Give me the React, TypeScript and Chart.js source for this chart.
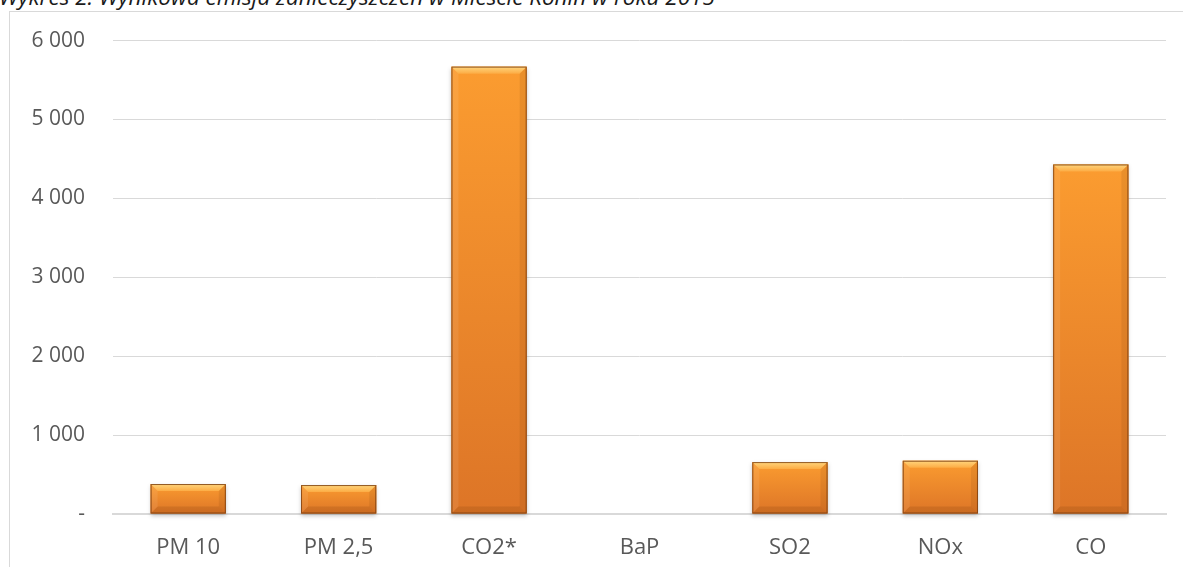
import React, { useEffect, useRef } from 'react';
import { Chart, registerables } from 'chart.js';

Chart.register(...registerables);

// emisja [Mg/rok]
const categories = ['PM 10', 'PM 2,5', 'CO2*', 'BaP', 'SO2', 'NOx', 'CO'];
const emissions = [380, 367, 5670, 0, 658, 675, 4430];
const yMax = 6000;
const yStep = 1000;

const title = 'Wykres 2. Wynikowa emisja zanieczyszczeń w Mieście Konin w roku 2015';

const fmt = (v: number) => (v === 0 ? '-' : String(v).replace(/\B(?=(\d{3})+(?!\d))/g, ' '));

// excel-like bevel on the bars, drawn over each bar element
const bevel = {
  id: 'bevel',
  afterDatasetsDraw(chart: any) {
    const ctx = chart.ctx as CanvasRenderingContext2D;
    chart.getDatasetMeta(0).data.forEach((bar: any) => {
      const p = bar.getProps(['x', 'y', 'base', 'width'], true);
      const l = p.x - p.width / 2;
      const r = p.x + p.width / 2;
      const t = Math.min(p.y, p.base);
      const b = Math.max(p.y, p.base);
      const h = b - t;
      if (h < 1) return;
      const s = Math.min(7, h / 2, p.width / 2);
      ctx.save();

      ctx.shadowColor = 'rgba(0,0,0,0.22)';
      ctx.shadowBlur = 4;
      ctx.shadowOffsetY = 2;
      const g = ctx.createLinearGradient(0, t, 0, b);
      g.addColorStop(0, '#fb9c30');
      g.addColorStop(1, '#dd7527');
      ctx.fillStyle = g;
      ctx.fillRect(l, t, p.width, h);
      ctx.shadowColor = 'transparent';

      const poly = (pts: number[][], fill: string | CanvasGradient) => {
        ctx.beginPath();
        ctx.moveTo(pts[0][0], pts[0][1]);
        pts.slice(1).forEach((q) => ctx.lineTo(q[0], q[1]));
        ctx.closePath();
        ctx.fillStyle = fill;
        ctx.fill();
      };
      const tg = ctx.createLinearGradient(0, t, 0, t + s);
      tg.addColorStop(0, '#ffd67e');
      tg.addColorStop(1, '#fcac44');
      poly([[l, t], [r, t], [r - s, t + s], [l + s, t + s]], tg);
      poly([[l, t], [l + s, t + s], [l + s, b - s], [l, b]], 'rgba(255,255,255,0.08)');
      poly([[r, t], [r - s, t + s], [r - s, b - s], [r, b]], 'rgba(90,40,0,0.10)');
      poly([[l, b], [l + s, b - s], [r - s, b - s], [r, b]], 'rgba(90,40,0,0.14)');

      ctx.strokeStyle = 'rgba(120,60,15,0.8)';
      ctx.lineWidth = 1;
      ctx.strokeRect(l + 0.5, t + 0.5, p.width - 1, h - 1);
      ctx.restore();
    });
  },
};

const EmissionChart: React.FC = () => {
  const ref = useRef<HTMLCanvasElement | null>(null);

  useEffect(() => {
    if (!ref.current) return;
    const chart = new Chart(ref.current, {
      type: 'bar',
      data: {
        labels: categories,
        datasets: [
          {
            label: 'Emisja',
            data: emissions,
            backgroundColor: '#ef8a2c',
            barPercentage: 0.5,
            categoryPercentage: 1,
          },
        ],
      },
      options: {
        responsive: false,
        animation: false,
        layout: { padding: { left: 0, right: 17, top: 40, bottom: 0 } },
        plugins: {
          legend: { display: false },
          tooltip: { enabled: false },
          title: { display: false },
        },
        scales: {
          x: {
            grid: { display: false },
            border: { display: true, color: '#d9d9d9', width: 2 },
            ticks: { color: '#595959', padding: 13, font: { family: 'Open Sans', size: 22 } },
            afterFit: (s: any) => { s.height = 53; },
          },
          y: {
            min: 0,
            max: yMax,
            ticks: {
              stepSize: yStep,
              color: '#595959',
              padding: 28,
              font: { family: 'Open Sans', size: 21 },
              callback: (v: any) => fmt(Number(v)),
            },
            grid: { color: '#d9d9d9', lineWidth: 1, drawTicks: false },
            border: { display: false },
            afterFit: (s: any) => { s.width = 113; },
          },
        },
      },
      plugins: [bevel],
    });
    return () => chart.destroy();
  }, []);

  return <canvas ref={ref} width={1183} height={567} style={{ position: 'absolute', left: 0, top: 0 }} />;
};

export default function App() {
  return (
    <div style={{ position: 'fixed', left: 0, top: 0, width: 1183, height: 567, overflow: 'hidden', background: '#fff' }}>
      <div
        style={{
          position: 'absolute',
          left: 9,
          top: 11,
          width: 1300,
          height: 700,
          border: '1px solid #d9d9d9',
        }}
      />
      <div
        style={{
          position: 'absolute',
          left: -1,
          top: -14,
          fontFamily: 'Open Sans',
          fontStyle: 'italic',
          fontSize: 22.5,
          lineHeight: '22.5px',
          color: '#1a1a1a',
          whiteSpace: 'nowrap',
        }}
      >
        {title}
      </div>
      <EmissionChart />
    </div>
  );
}
